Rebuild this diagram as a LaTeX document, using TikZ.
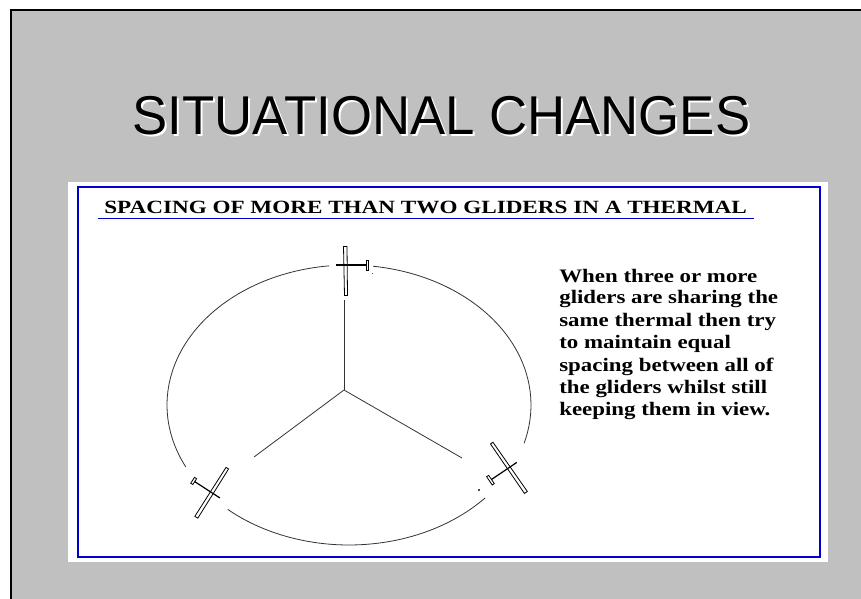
\documentclass[tikz,border=0pt]{standalone}
\usepackage{fontspec}
\setmainfont{Liberation Serif}
\newfontfamily\titlefont{Liberation Sans}
\definecolor{slidegray}{HTML}{C0C0C0}
\definecolor{frameblue}{HTML}{0000CC}
\tikzset{
  px/.style={x=0.75pt,y=-0.75pt},
  circuit/.style={draw=black!80,line width=0.6pt},
  gliderline/.style={draw=black,line width=0.6pt,fill=white},
  bodytext/.style={anchor=west,inner sep=0pt,font=\bfseries\fontsize{14.3}{16}\selectfont,xscale=1.2},
  titletext/.style={inner sep=0pt,xscale=0.965,font=\titlefont\fontsize{41}{44}\selectfont},
}
% #1 wing centre, #2 direction of the tail, #3 half span, #4 tail boom length, #5 tail fin half size, #6 fuselage offset along the span
\newcommand{\glider}[6]{%
  \begin{scope}[shift={(#1)},rotate=#2]
    \path[gliderline] (-2.5,-#3) -- (1,-#3) -- (1.5,#3) -- (-1.5,#3) -- cycle;
    \draw[black,line width=0.9pt] (-10,#6) -- (#4,#6);
    \path[gliderline] (#4-1,#6-#5) rectangle (#4+1.5,#6+#5);
  \end{scope}}
\begin{document}
\begin{tikzpicture}[px]
\useasboundingbox (0,0) rectangle (861,599);
\fill[white] (0,0) rectangle (861,599);
\fill[slidegray] (10,10) rectangle (861,599);
\draw[black,line width=1.5pt] (10.5,599) -- (10.5,10.5) -- (861,10.5);
\fill[white] (68,182) rectangle (828,562);
\draw[frameblue,line width=1.5pt] (78,187) rectangle (820,557);
\node[titletext,white] (titleshadow) at (443.5,118) {SITUATIONAL CHANGES};
\node[titletext,black] (title) at (441.5,116) {SITUATIONAL CHANGES};
\node[anchor=west,inner sep=0pt,xscale=1.24,font=\bfseries\fontsize{14}{16}\selectfont] (heading) at (104,207) {SPACING OF MORE THAN TWO GLIDERS IN A THERMAL};
\draw[frameblue,line width=1.3pt] (98,218.5) -- (754,218.5);
% body text
\node[bodytext] (l1) at (559,276.5) {When three or more};
\node[bodytext] (l2) at (559,299) {gliders are sharing the};
\node[bodytext] (l3) at (559,321.5) {same thermal then try};
\node[bodytext] (l4) at (559,344) {to maintain equal};
\node[bodytext] (l5) at (559,366.5) {spacing between all of};
\node[bodytext] (l6) at (559,389) {the gliders whilst still};
\node[bodytext] (l7) at (559,411) {keeping them in view.};
% circling path
\def\cx{349}\def\cy{405}
\draw[circuit] (\cx,\cy) ++(-82.4:182 and 140) arc[start angle=-82.4,end angle=15.8,x radius=182,y radius=140];
\draw[circuit] (\cx,\cy) ++(41.6:182 and 140) arc[start angle=41.6,end angle=131.8,x radius=182,y radius=140];
\draw[circuit] (\cx,\cy) ++(153.7:182 and 140) arc[start angle=153.7,end angle=263.7,x radius=182,y radius=140];
% spokes
\coordinate (hub) at (344,390);
\coordinate (s1) at (344,300);
\coordinate (s2) at (254,457);
\coordinate (s3) at (462,458);
\draw[circuit] (hub) -- (s1);
\draw[circuit] (hub) -- (s2);
\draw[circuit] (hub) -- (s3);
% specks
\fill[black!70] (371.5,273.5) rectangle (372.5,274.5);
\fill[black!70] (478,489) rectangle (480,491);
% gliders
\glider{346,271}{0}{24.5}{21}{5}{-6}
\glider{211.5,492.5}{147}{29}{21}{3.5}{0}
\glider{508.5,468}{214}{30}{21.5}{5}{0}
\end{tikzpicture}
\end{document}
